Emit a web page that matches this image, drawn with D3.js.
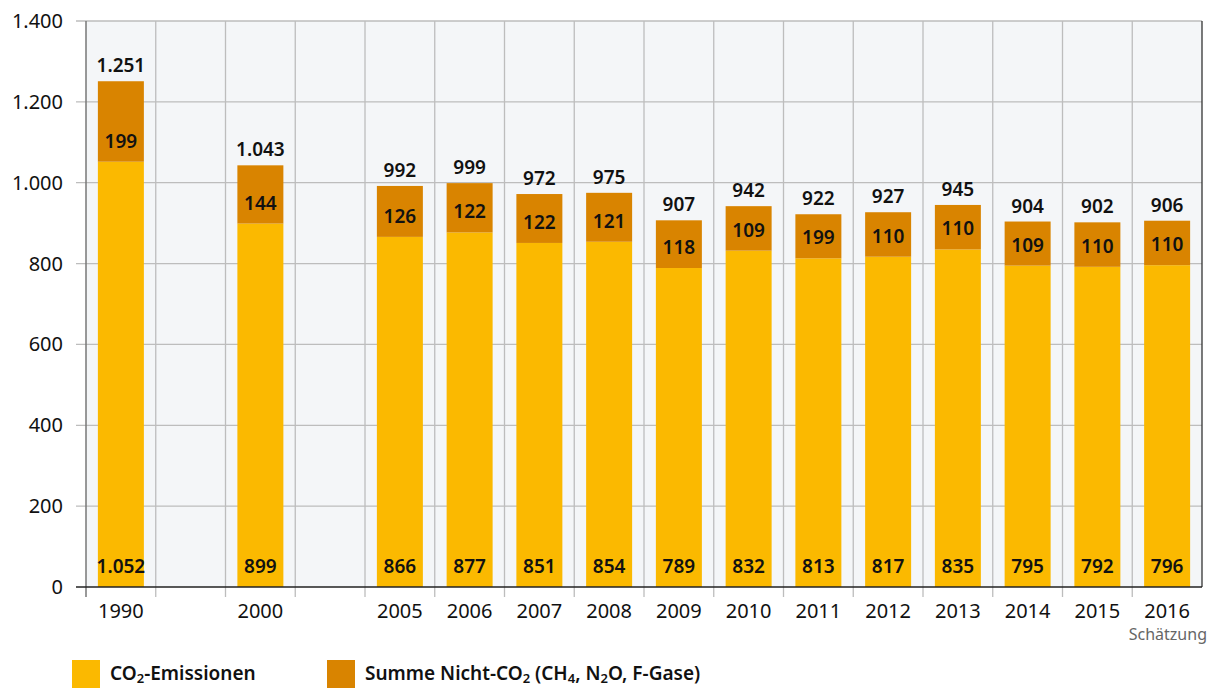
<!DOCTYPE html>
<html>
<head>
<meta charset="utf-8">
<script src="https://d3js.org/d3.v7.min.js"></script>
<style>
  body { margin: 0; background: #fff; }
  text { font-family: "Noto Sans", "Lato", sans-serif; }
</style>
</head>
<body>
<script>

// columns of the chart, the "g" slots are the gaps after 1990 and 2000
var slots = ["1990", "g1", "2000", "g2", "2005", "2006", "2007", "2008", "2009", "2010", "2011", "2012", "2013", "2014", "2015", "2016"];
var years = ["1990", "2000", "2005", "2006", "2007", "2008", "2009", "2010", "2011", "2012", "2013", "2014", "2015", "2016"];
var co2 = [1052, 899, 866, 877, 851, 854, 789, 832, 813, 817, 835, 795, 792, 796];
var nonCo2Labels = [199, 144, 126, 122, 122, 121, 118, 109, 199, 110, 110, 109, 110, 110];
var totals = [1251, 1043, 992, 999, 972, 975, 907, 942, 922, 927, 945, 904, 902, 906];
var yTicks = [0, 200, 400, 600, 800, 1000, 1200, 1400];

var width = 1218, height = 688;
var pLeft = 86, pRight = 1202, pTop = 21, pBottom = 587;

var de = d3.formatLocale({decimal: ",", thousands: ".", grouping: [3], currency: ["", " €"]});
var fmt = de.format(",d");

var svg = d3.select("body").append("svg").attr("width", width).attr("height", height);

var x = d3.scaleBand().domain(slots).range([pLeft, pRight]).padding(0);
var y = d3.scaleLinear().domain([0, 1400]).range([pBottom, pTop]);

//plot background
svg.append("rect").attr("x", pLeft).attr("y", pTop).attr("width", pRight - pLeft).attr("height", pBottom - pTop)
  .attr("fill", "#f4f6f8");

//horizontal grid + left tick marks
svg.selectAll(".hgrid").data(yTicks.filter(function(d){ return d > 0; })).enter().append("line")
  .attr("x1", pLeft - 10).attr("x2", pRight)
  .attr("y1", function(d){ return y(d); }).attr("y2", function(d){ return y(d); })
  .attr("stroke", "#bdbdbd").attr("stroke-width", 1.3);

//vertical grid, extending below the axis as ticks
var bounds = slots.slice(1).map(function(d){ return x(d); });
svg.selectAll(".vgrid").data(bounds).enter().append("line")
  .attr("x1", function(d){ return d; }).attr("x2", function(d){ return d; })
  .attr("y1", pTop).attr("y2", pBottom + 10)
  .attr("stroke", "#bdbdbd").attr("stroke-width", 1.3);

//borders
svg.append("line").attr("x1", pLeft).attr("x2", pLeft).attr("y1", pTop).attr("y2", pBottom + 10).attr("stroke", "#777").attr("stroke-width", 1.5);
svg.append("line").attr("x1", pRight).attr("x2", pRight).attr("y1", pTop).attr("y2", pBottom).attr("stroke", "#333").attr("stroke-width", 1.3);

//y tick labels
svg.selectAll(".ylab").data(yTicks).enter().append("text")
  .attr("x", 63).attr("y", function(d){ return y(d) + 7; })
  .attr("text-anchor", "end").attr("font-size", 20).attr("fill", "#111")
  .text(function(d){ return fmt(d); });

var bw = x.bandwidth(), barW = 46;
function bx(i){ return x(years[i]) + (bw - barW) / 2; }

var bars = svg.selectAll(".bar").data(years).enter().append("g");

bars.append("rect")
  .attr("x", function(d, i){ return bx(i); }).attr("width", barW)
  .attr("y", function(d, i){ return y(co2[i]); })
  .attr("height", function(d, i){ return y(0) - y(co2[i]); })
  .attr("fill", "#fbb900");

bars.append("rect")
  .attr("x", function(d, i){ return bx(i); }).attr("width", barW)
  .attr("y", function(d, i){ return y(totals[i]); })
  .attr("height", function(d, i){ return y(co2[i]) - y(totals[i]); })
  .attr("fill", "#d98400");

//x axis line
svg.append("line").attr("x1", pLeft - 10).attr("x2", pRight).attr("y1", pBottom).attr("y2", pBottom).attr("stroke", "#222").attr("stroke-width", 1.5);

//labels
bars.append("text")
  .attr("x", function(d){ return x(d) + bw / 2; })
  .attr("y", pBottom - 14)
  .attr("text-anchor", "middle").attr("font-size", 19).attr("font-weight", 600).attr("fill", "#111")
  .text(function(d, i){ return fmt(co2[i]); });

bars.append("text")
  .attr("x", function(d){ return x(d) + bw / 2; })
  .attr("y", function(d, i){ return y(co2[i]) - 14; })
  .attr("text-anchor", "middle").attr("font-size", 19).attr("font-weight", 600).attr("fill", "#111")
  .text(function(d, i){ return nonCo2Labels[i]; });

bars.append("text")
  .attr("x", function(d){ return x(d) + bw / 2; })
  .attr("y", function(d, i){ return y(totals[i]) - 9; })
  .attr("text-anchor", "middle").attr("font-size", 19).attr("font-weight", 600).attr("fill", "#111")
  .text(function(d, i){ return fmt(totals[i]); });

//x labels
svg.selectAll(".xlab").data(years).enter().append("text")
  .attr("x", function(d){ return x(d) + bw / 2; })
  .attr("y", 618)
  .attr("text-anchor", "middle").attr("font-size", 20).attr("fill", "#111")
  .text(function(d){ return d; });

svg.append("text").attr("x", 1207).attr("y", 640).attr("text-anchor", "end")
  .attr("font-size", 16).attr("fill", "#666").text("Schätzung");

//legend
var legend = [
  {color: "#fbb900", x: 72, parts: [["CO", 0], ["2", 1], ["-Emissionen", 0]]},
  {color: "#d98400", x: 327, parts: [["Summe Nicht-CO", 0], ["2", 1], [" (CH", 0], ["4", 1], [", N", 0], ["2", 1], ["O, F-Gase)", 0]]}
];
legend.forEach(function(l){
  svg.append("rect").attr("x", l.x).attr("y", 660).attr("width", 28).attr("height", 28).attr("fill", l.color);
  var t = svg.append("text").attr("x", l.x + 38).attr("y", 680)
    .attr("font-size", 19).attr("font-weight", 600).attr("fill", "#111");
  var sub = false;
  l.parts.forEach(function(p){
    var ts = t.append("tspan").text(p[0]);
    if (p[1]) { ts.attr("font-size", 13).attr("dy", 3); sub = true; }
    else if (sub) { ts.attr("dy", -3); sub = false; }
  });
});

</script>
</body>
</html>
